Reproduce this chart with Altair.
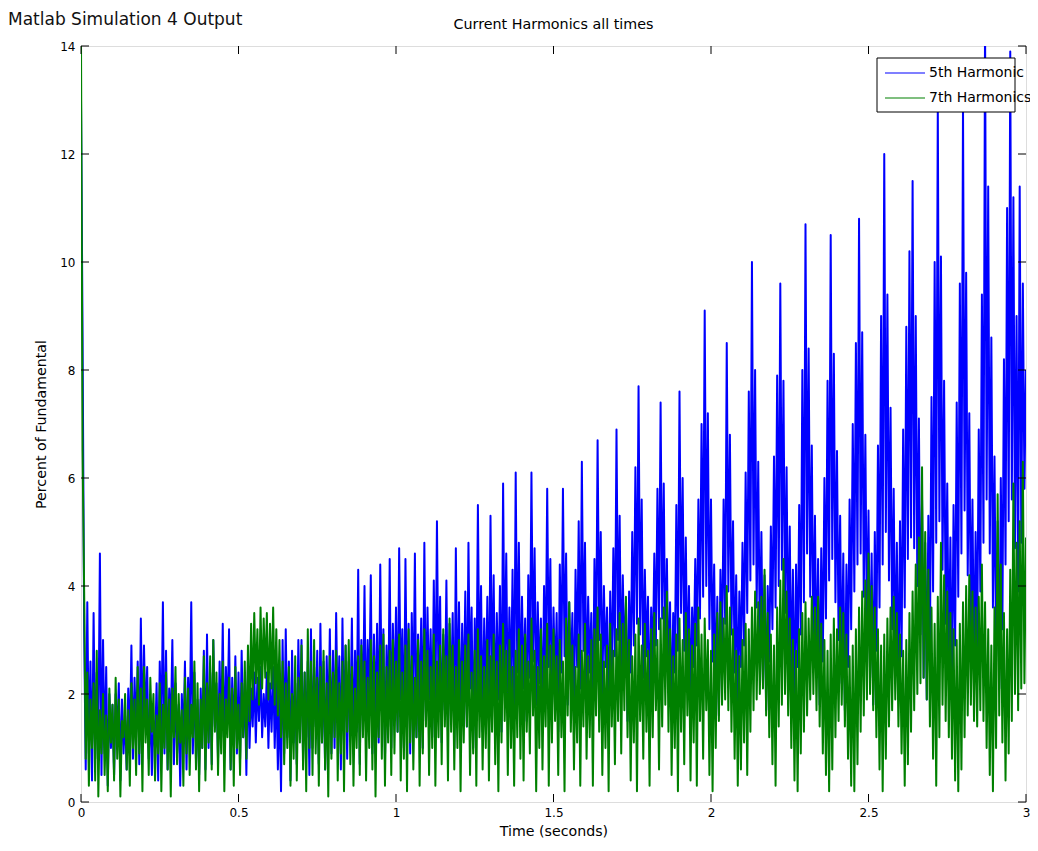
import altair as alt
import pandas as pd

# ---- data (sample step 0.005 s) ----
DT = 0.005
fifth = [
    13.0, 8.6, 3.2, 0.6, 3.7, 0.9, 2.6, 0.4, 3.5, 0.8, 2.4, 1.1, 4.6, 0.5, 3.0, 0.9, 2.5, 0.3, 2.0, 1.0,
    1.8, 0.5, 2.0, 1.2, 2.2, 0.4, 1.9, 0.9, 1.6, 0.6, 2.1, 1.0, 2.9, 0.8, 2.3, 1.3, 2.6, 0.7, 3.4, 1.1,
    2.9, 1.4, 2.5, 0.8, 1.8, 0.5, 1.5, 1.0, 2.2, 0.4, 2.6, 1.2, 3.7, 0.9, 2.8, 0.6, 2.1, 1.3, 3.0, 0.7,
    2.2, 0.9, 1.8, 0.3, 2.0, 1.1, 2.6, 0.6, 2.3, 1.2, 3.7, 0.9, 2.4, 0.8, 1.9, 0.5, 2.1, 1.0, 2.8, 0.6,
    3.1, 1.0, 2.4, 0.7, 3.0, 1.4, 2.2, 0.8, 2.6, 1.2, 3.3, 0.9, 2.5, 1.5, 3.2, 0.6, 2.3, 1.1, 2.7, 0.9,
    2.4, 0.8, 2.8, 1.2, 2.2, 0.5, 2.6, 1.0, 2.1, 1.4, 2.4, 1.1, 2.3, 1.5, 2.5, 1.2, 2.0, 1.4, 2.4, 1.0,
    2.2, 1.3, 2.5, 1.0, 2.3, 0.6, 2.0, 0.2, 3.0, 0.9, 3.2, 1.2, 2.6, 0.4, 2.8, 1.1, 2.2, 0.7, 3.0, 1.3,
    3.0, 0.8, 2.4, 1.2, 2.6, 0.5, 3.2, 1.0, 2.5, 1.4, 2.8, 0.7, 3.3, 1.1, 2.6, 0.6, 2.7, 1.3, 3.2, 0.9,
    2.8, 1.0, 3.5, 1.5, 2.7, 0.6, 3.4, 1.2, 2.9, 0.8, 2.6, 1.4, 3.4, 0.9, 2.8, 1.3, 4.3, 0.7, 3.0, 1.6,
    4.0, 1.2, 3.0, 1.8, 4.2, 0.9, 3.1, 1.5, 3.3, 1.1, 4.4, 1.7, 3.2, 0.8, 2.9, 1.4, 4.5, 1.0, 3.3, 1.8,
    3.6, 1.3, 4.7, 1.9, 3.2, 1.0, 4.5, 1.6, 3.3, 0.9, 3.5, 1.7, 4.6, 1.2, 3.1, 1.8, 3.4, 1.0, 4.8, 1.5,
    3.6, 1.9, 3.2, 1.2, 4.1, 1.6, 5.2, 2.0, 3.8, 1.1, 3.1, 1.7, 4.1, 1.3, 3.3, 2.0, 3.5, 1.0, 4.7, 1.6,
    3.7, 1.2, 3.3, 1.8, 3.9, 1.4, 4.8, 2.1, 3.6, 1.0, 3.4, 1.7, 5.5, 2.2, 4.0, 1.3, 3.4, 1.9, 3.8, 1.5,
    5.3, 2.0, 4.2, 1.4, 3.5, 1.9, 4.0, 1.3, 5.9, 2.3, 4.6, 1.6, 3.6, 2.0, 4.3, 1.5, 6.1, 2.4, 4.8, 1.7,
    3.8, 2.1, 3.4, 1.5, 4.2, 2.3, 6.1, 2.6, 4.7, 1.8, 3.7, 2.2, 3.4, 1.4, 4.0, 2.4, 5.8, 2.5, 4.5, 1.7,
    3.6, 2.2, 3.5, 1.3, 4.4, 2.4, 5.8, 2.7, 4.6, 1.8, 3.7, 2.3, 3.5, 1.5, 4.3, 2.5, 5.2, 2.1, 6.3, 2.8,
    4.8, 1.9, 3.8, 2.4, 3.5, 1.4, 4.5, 2.6, 6.7, 3.0, 5.0, 2.0, 4.0, 2.5, 3.6, 1.3, 3.9, 2.2, 4.7, 2.7,
    6.9, 3.0, 5.3, 2.2, 4.2, 2.6, 3.7, 1.5, 3.9, 2.4, 5.0, 2.9, 6.2, 3.3, 7.7, 3.1, 5.6, 2.3, 4.3, 2.7,
    3.8, 1.6, 3.6, 2.5, 4.6, 2.9, 5.8, 3.2, 7.4, 3.4, 5.9, 2.6, 4.5, 2.2, 3.7, 1.5, 3.5, 2.4, 5.5, 2.8,
    7.6, 3.5, 6.0, 2.8, 4.9, 2.3, 4.0, 1.7, 3.6, 2.5, 4.5, 2.9, 5.6, 3.4, 7.0, 3.8, 9.1, 4.0, 7.2, 3.2,
    5.6, 2.6, 4.4, 2.0, 3.8, 1.6, 4.3, 2.7, 5.6, 3.3, 8.5, 3.9, 6.8, 3.1, 5.2, 2.4, 4.2, 1.8, 3.9, 2.5,
    4.8, 2.9, 6.1, 3.5, 7.6, 4.1, 10.0, 4.4, 8.0, 3.6, 6.3, 2.8, 5.0, 2.2, 4.2, 1.7, 4.0, 2.6, 5.1, 3.2,
    6.4, 3.6, 7.9, 4.0, 9.6, 4.3, 7.8, 3.5, 6.2, 2.7, 5.1, 2.1, 4.3, 1.6, 4.4, 2.5, 5.5, 3.1, 8.0, 3.7,
    10.7, 4.6, 8.4, 3.8, 6.6, 3.0, 5.3, 2.3, 4.5, 1.8, 4.7, 2.6, 6.0, 3.4, 7.8, 4.1, 10.5, 4.5, 8.3, 3.7,
    6.5, 3.0, 5.3, 2.2, 4.6, 1.7, 4.4, 2.5, 5.6, 3.2, 7.0, 3.9, 8.5, 4.4, 10.8, 4.6, 8.7, 3.8, 6.8, 3.0,
    5.4, 2.3, 4.6, 1.8, 5.0, 2.8, 6.6, 3.6, 9.0, 4.4, 12.0, 5.0, 9.4, 4.1, 7.3, 3.2, 5.8, 2.4, 4.8, 1.9,
    5.2, 2.7, 6.9, 3.6, 8.8, 4.5, 10.2, 4.9, 11.5, 4.7, 9.0, 4.0, 7.1, 3.1, 5.6, 2.3, 4.8, 1.9, 5.3, 2.8,
    7.5, 3.9, 10.0, 4.8, 12.9, 5.2, 10.1, 4.3, 7.8, 3.3, 5.9, 2.4, 4.9, 1.8, 5.5, 2.9, 7.4, 3.8, 9.6, 4.6,
    12.9, 5.4, 9.8, 4.2, 7.2, 3.1, 5.6, 2.3, 5.0, 2.8, 6.9, 3.9, 9.4, 4.8, 14.5, 5.6, 11.4, 4.6, 8.6, 3.6,
    6.4, 2.7, 5.2, 2.1, 6.0, 3.2, 8.2, 4.4, 11.0, 5.2, 13.9, 5.6, 11.2, 4.7, 9.0, 3.9, 11.4, 4.8, 9.6, 5.8,
    8.0,
]

seventh = [
    14.1, 6.5, 3.9, 0.8, 2.4, 0.3, 1.9, 1.0, 2.2, 0.4, 2.8, 0.1, 1.7, 0.9, 2.0, 0.5, 1.6, 0.2, 2.1, 1.1,
    1.8, 0.4, 2.3, 0.8, 1.9, 0.1, 1.5, 1.2, 2.0, 0.6, 1.7, 0.3, 2.2, 1.0, 1.9, 0.5, 2.5, 0.9, 2.1, 0.2,
    2.5, 1.1, 1.9, 0.5, 2.3, 1.3, 2.0, 0.4, 1.6, 0.9, 2.2, 0.2, 1.8, 1.0, 2.4, 0.6, 1.9, 0.1, 2.1, 1.2,
    2.5, 0.7, 2.0, 1.1, 1.7, 0.3, 2.3, 0.9, 2.1, 0.5, 1.8, 1.2, 2.6, 0.6, 2.2, 0.2, 1.9, 1.0, 2.7, 0.4,
    2.2, 1.1, 2.7, 0.6, 3.0, 1.3, 2.4, 0.5, 2.0, 0.9, 2.6, 0.2, 1.9, 1.2, 2.3, 0.6, 2.1, 0.3, 2.5, 1.0,
    1.8, 0.5, 2.2, 1.2, 2.6, 0.8, 2.9, 1.5, 3.3, 1.9, 3.5, 2.2, 3.2, 1.8, 3.6, 2.1, 3.4, 2.3, 3.5, 1.9,
    3.3, 2.1, 3.6, 1.8, 3.2, 1.6, 3.0, 1.2, 2.6, 0.7, 2.2, 1.0, 2.5, 0.3, 2.0, 0.8, 2.7, 0.4, 2.3, 1.1,
    2.9, 0.6, 2.4, 0.2, 3.2, 1.0, 2.6, 0.5, 3.0, 0.9, 2.3, 0.3, 2.5, 1.1, 2.8, 0.6, 2.2, 0.1, 2.7, 0.8,
    2.4, 1.2, 2.8, 0.4, 2.2, 0.9, 2.6, 0.2, 2.9, 1.3, 3.0, 0.7, 2.5, 0.3, 2.1, 1.0, 2.7, 0.5, 2.9, 1.2,
    2.6, 0.4, 2.3, 1.0, 3.0, 0.6, 2.7, 0.1, 2.4, 1.2, 2.9, 0.8, 3.1, 0.3, 2.5, 1.1, 2.8, 0.5, 3.0, 0.9,
    2.6, 1.3, 3.1, 0.4, 2.4, 0.8, 2.9, 0.2, 3.2, 1.1, 2.7, 0.6, 2.3, 1.2, 3.0, 0.3, 2.6, 0.9, 3.2, 1.4,
    2.8, 0.5, 2.5, 1.0, 3.1, 0.3, 2.6, 1.2, 2.9, 0.7, 3.2, 1.4, 2.7, 0.4, 3.4, 1.3, 2.9, 0.6, 2.5, 1.0,
    3.0, 0.2, 2.6, 1.1, 2.9, 1.4, 3.1, 0.5, 2.4, 0.9, 2.8, 0.3, 3.2, 1.2, 2.7, 0.6, 2.5, 1.0, 3.0, 0.4,
    2.7, 1.3, 3.1, 0.7, 2.6, 0.2, 2.9, 1.1, 3.3, 1.5, 2.8, 0.5, 3.0, 1.0, 2.5, 0.3, 2.8, 1.2, 3.2, 0.8,
    2.9, 0.4, 3.1, 1.3, 2.6, 0.9, 3.4, 1.6, 2.8, 0.2, 2.5, 1.0, 3.2, 0.6, 2.7, 1.4, 3.3, 0.3, 2.9, 1.1,
    3.2, 1.5, 2.7, 0.5, 3.0, 1.2, 2.6, 0.2, 3.4, 1.6, 3.7, 1.3, 2.9, 0.6, 2.5, 1.1, 3.1, 0.3, 2.8, 1.4,
    3.3, 0.8, 2.7, 1.2, 3.0, 0.3, 3.2, 1.6, 3.6, 1.3, 3.1, 0.5, 2.6, 1.0, 2.9, 0.2, 3.3, 1.4, 2.8, 0.7,
    3.2, 1.5, 3.5, 0.9, 3.3, 1.7, 3.8, 1.2, 3.0, 0.4, 2.7, 1.1, 3.1, 0.2, 3.4, 1.5, 2.9, 0.8, 3.3, 1.3,
    2.8, 0.3, 3.2, 1.2, 3.5, 1.7, 3.0, 0.6, 3.4, 1.4, 3.6, 1.8, 3.9, 1.3, 3.2, 0.5, 2.7, 1.0, 3.1, 0.2,
    3.4, 1.3, 3.0, 0.7, 3.5, 1.6, 3.2, 0.4, 2.9, 1.1, 3.3, 0.3, 3.6, 1.5, 3.1, 0.8, 3.4, 1.7, 3.0, 0.5,
    2.8, 0.2, 3.1, 1.0, 3.5, 1.5, 3.7, 1.8, 3.4, 1.9, 4.0, 1.7, 3.6, 1.3, 3.2, 0.8, 2.8, 0.3, 2.7, 0.6,
    3.0, 1.1, 3.3, 0.5, 3.2, 1.3, 3.6, 1.7, 3.9, 1.9, 3.7, 2.0, 3.8, 2.1, 4.3, 1.6, 3.5, 1.2, 3.1, 0.7,
    2.9, 0.3, 3.6, 1.4, 4.1, 1.8, 4.5, 2.0, 3.9, 1.6, 3.4, 1.0, 3.0, 0.4, 2.8, 0.2, 3.2, 0.9, 3.5, 1.3,
    3.7, 1.6, 3.4, 1.9, 3.8, 2.0, 3.6, 1.7, 3.8, 1.4, 3.3, 0.9, 3.0, 0.5, 2.8, 0.2, 3.1, 0.6, 3.4, 1.2,
    3.2, 1.5, 3.6, 1.8, 3.5, 1.4, 3.1, 0.8, 2.7, 0.3, 2.9, 0.2, 3.2, 0.7, 3.6, 1.3, 3.9, 1.6, 4.1, 1.9,
    4.6, 2.0, 4.0, 1.7, 3.6, 1.2, 3.2, 0.6, 2.9, 0.2, 3.1, 0.8, 3.4, 1.4, 3.6, 1.7, 3.8, 1.9, 3.5, 1.4,
    3.1, 0.9, 2.8, 0.3, 3.0, 0.7, 3.5, 1.3, 3.9, 1.7, 4.4, 2.0, 4.9, 2.2, 6.2, 2.3, 5.0, 1.9, 4.3, 1.4,
    3.6, 0.8, 3.3, 0.3, 3.8, 1.2, 4.8, 1.8, 4.2, 1.5, 3.9, 1.2, 3.5, 0.8, 3.2, 0.4, 3.0, 0.2, 3.3, 0.6,
    3.7, 1.2, 4.0, 1.6, 4.2, 1.8, 3.9, 1.5, 3.6, 1.4, 3.8, 1.7, 4.4, 1.5, 3.7, 1.0, 3.2, 0.5, 2.9, 0.2,
    3.6, 1.0, 5.7, 1.6, 4.4, 1.1, 3.5, 0.4, 3.2, 0.9, 4.3, 1.5, 5.9, 2.0, 4.8, 1.7, 5.2, 2.1, 6.3, 2.2,
    4.9,
]

series_names = ["5th Harmonic", "7th Harmonics"]
series_colors = ["#0000ff", "#008000"]
x_ticks = [0, 0.5, 1, 1.5, 2, 2.5, 3]
y_ticks = [0, 2, 4, 6, 8, 10, 12, 14]

sup_title = "Matlab Simulation 4 Output"
plot_title = "Current Harmonics all times"
x_title = "Time (seconds)"
y_title = "Percent of Fundamental"

# ---- table ----
rows = []
for name, vals in zip(series_names, [fifth, seventh]):
    for i, v in enumerate(vals):
        rows.append({"t": round(i * DT, 4), "v": v, "series": name, "idx": i})
df = pd.DataFrame(rows)

W, H = 945, 756
FONT = "DejaVu Sans"
TICK = 8
LW = 2.0

color = alt.Color(
    "series:N",
    scale=alt.Scale(domain=series_names, range=series_colors),
    legend=None,
)

x_axis = alt.Axis(
    values=x_ticks, format="~g", title=x_title, tickSize=0, domain=False,
    grid=False, labelFontSize=12, titleFontSize=14.2, labelFont=FONT,
    titleFont=FONT, titleFontWeight="normal", labelColor="black",
    titleColor="black", labelPadding=5, titlePadding=6, labelFlush=False,
)
y_axis = alt.Axis(
    values=y_ticks, title=y_title, tickSize=0, domain=False, grid=False,
    labelFontSize=12, titleFontSize=14.2, labelFont=FONT, titleFont=FONT,
    titleFontWeight="normal", labelColor="black", titleColor="black",
    labelPadding=6, titlePadding=11, labelFlush=False,
)
xscale = alt.Scale(domain=[0, 3], nice=False, zero=False)
yscale = alt.Scale(domain=[0, 14], nice=False, zero=True)
xenc = alt.X("t:Q", scale=xscale, axis=x_axis)
yenc = alt.Y("v:Q", scale=yscale, axis=y_axis)

base = alt.Chart(df)
blue = base.transform_filter(alt.datum.series == series_names[0]).mark_line(
    strokeWidth=LW, clip=True, strokeJoin="round"
).encode(x=xenc, y=yenc, color=color, order="idx:Q")
green = base.transform_filter(alt.datum.series == series_names[1]).mark_line(
    strokeWidth=LW, clip=True, strokeJoin="round"
).encode(x=xenc, y=yenc, color=color, order="idx:Q")

# inward tick marks on all four sides (same field names so the axes merge)
xt = pd.DataFrame({"t": x_ticks})
yt = pd.DataFrame({"v": y_ticks})
xs = alt.X("t:Q", scale=xscale, axis=x_axis)
ys = alt.Y("v:Q", scale=yscale, axis=y_axis)
tick_style = dict(color="black", strokeWidth=1)
ticks_bottom = alt.Chart(xt).mark_rule(**tick_style).encode(
    x=xs, y=alt.value(H), y2=alt.value(H - TICK))
ticks_top = alt.Chart(xt).mark_rule(**tick_style).encode(
    x=xs, y=alt.value(0), y2=alt.value(TICK))
ticks_left = alt.Chart(yt).mark_rule(**tick_style).encode(
    y=ys, x=alt.value(0), x2=alt.value(TICK))
ticks_right = alt.Chart(yt).mark_rule(**tick_style).encode(
    y=ys, x=alt.value(W), x2=alt.value(W - TICK))

# titles as text marks
sup = alt.Chart(pd.DataFrame({"label": [sup_title]})).mark_text(
    align="left", baseline="alphabetic", fontSize=17, font=FONT, color="#111111"
).encode(x=alt.value(-73), y=alt.value(-21), text="label:N")
ptitle = alt.Chart(pd.DataFrame({"label": [plot_title]})).mark_text(
    align="center", baseline="middle", fontSize=14.3, font=FONT, color="black"
).encode(x=alt.value(W / 2), y=alt.value(-21), text="label:N")

# legend box drawn with marks
LX0, LX1, LY0, LY1 = 796, 934, 12, 66
leg_box = alt.Chart(pd.DataFrame({"k": [0]})).mark_rect(
    fill="white", stroke="black", strokeWidth=1
).encode(x=alt.value(LX0), x2=alt.value(LX1), y=alt.value(LY0), y2=alt.value(LY1))
leg_layers = [leg_box]
for k, (name, col) in enumerate(zip(series_names, series_colors)):
    yy = 27 + 25 * k
    d = pd.DataFrame({"label": [name]})
    leg_layers.append(alt.Chart(d).mark_rule(color=col, strokeWidth=1.2).encode(
        x=alt.value(804), x2=alt.value(844), y=alt.value(yy)))
    leg_layers.append(alt.Chart(d).mark_text(
        align="left", baseline="middle", fontSize=14, font=FONT, color="black"
    ).encode(x=alt.value(848), y=alt.value(yy), text="label:N"))

chart = alt.layer(
    blue, green, ticks_bottom, ticks_top, ticks_left, ticks_right,
    sup, ptitle, *leg_layers
).properties(
    width=W, height=H,
    autosize=alt.AutoSizeParams(type="none"),
    padding={"left": 73, "top": 38, "right": 4, "bottom": 41},
).configure_view(stroke="black", strokeWidth=1).configure(background="white")

chart.save("out.html", embed_options={"renderer": "svg", "actions": False})
